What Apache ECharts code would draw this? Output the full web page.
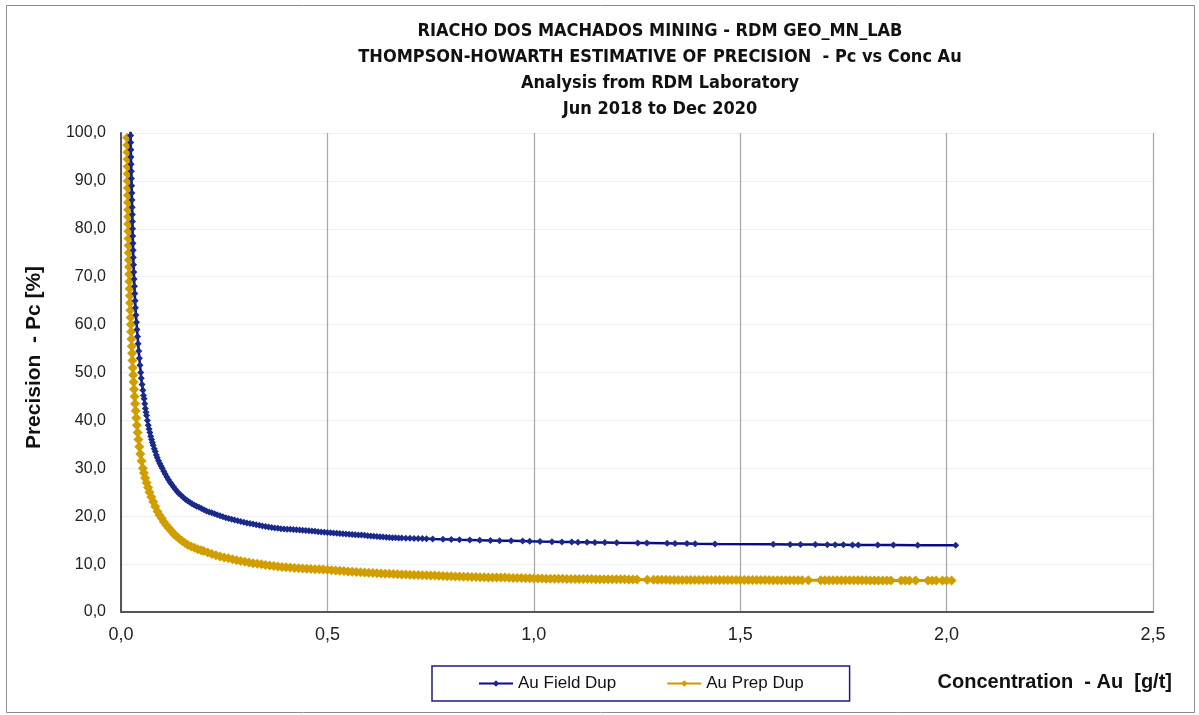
<!DOCTYPE html>
<html>
<head>
<meta charset="utf-8">
<script src="https://cdn.jsdelivr.net/npm/echarts@6/dist/echarts.min.js"></script>
<style>
html,body{margin:0;padding:0;background:#fff;}
#c{width:1199px;height:715px;}
</style>
</head>
<body>
<div id="c"></div>
<script>
const titleLines = [
  'RIACHO DOS MACHADOS MINING - RDM GEO_MN_LAB',
  'THOMPSON-HOWARTH ESTIMATIVE OF PRECISION  - Pc vs Conc Au',
  'Analysis from RDM Laboratory',
  'Jun 2018 to Dec 2020'
];
const seriesNames = ['Au Field Dup', 'Au Prep Dup'];
const xTicks = [0, 0.5, 1.0, 1.5, 2.0, 2.5];
const yTicks = [0, 10, 20, 30, 40, 50, 60, 70, 80, 90, 100];

// [Concentration Au g/t, Precision Pc %]
const fieldPoints = [
  [0.0222,104],[0.0229,101],[0.0233,99.5],[0.0236,98],[0.0239,96.5],[0.0242,95],[0.0246,93.5],[0.0250,92],[0.0255,90.5],[0.0259,89],
  [0.0263,87.5],[0.0267,86],[0.0271,84.5],[0.0275,83],[0.0278,81.5],[0.0281,80],[0.0285,78.5],[0.0290,77],[0.0295,75.5],[0.0299,74],
  [0.0305,72.5],[0.0311,71],[0.0318,69.5],[0.0325,68],[0.0333,66.5],[0.0342,65],[0.0351,63.5],[0.0362,62],[0.0375,60.5],[0.0388,59],
  [0.0402,57.5],[0.0415,56],[0.0430,54.5],[0.0445,53],[0.0461,51.5],[0.0478,50],[0.049,48.8],[0.051,47.5],[0.053,46.3],[0.0545,45.2],
  [0.056,44.5],[0.0575,43.5],[0.059,42.5],[0.0605,41.7],[0.062,41],[0.064,40],[0.066,39],[0.068,38.2],[0.070,37.5],[0.072,36.7],
  [0.074,36],[0.076,35.4],[0.078,34.8],[0.0805,34.1],[0.083,33.5],[0.0855,32.8],[0.088,32.2],[0.091,31.6],[0.094,31],[0.097,30.5],
  [0.100,30],[0.1035,29.4],[0.107,28.8],[0.111,28.2],[0.115,27.6],[0.119,27.1],[0.123,26.6],[0.1275,26.1],[0.132,25.6],[0.1365,25.1],
  [0.141,24.7],[0.146,24.3],[0.151,23.9],[0.156,23.55],[0.161,23.2],[0.1665,22.9],[0.172,22.6],[0.1775,22.35],[0.183,22.1],[0.189,21.85],
  [0.195,21.6],[0.201,21.35],[0.207,21.1],[0.2135,20.9],[0.220,20.7],[0.2265,20.5],[0.233,20.3],[0.240,20.1],[0.247,19.9],[0.254,19.7],
  [0.261,19.5],[0.268,19.35],[0.275,19.2],[0.2825,19.05],[0.29,18.9],[0.2975,18.75],[0.305,18.6],[0.3125,18.5],[0.32,18.35],[0.3275,18.2],
  [0.335,18.1],[0.3425,17.95],[0.35,17.85],[0.3575,17.75],[0.365,17.65],[0.3725,17.55],[0.38,17.5],[0.3875,17.4],[0.395,17.35],[0.4025,17.3],
  [0.41,17.25],[0.4175,17.2],[0.425,17.15],[0.4325,17.1],[0.44,17.05],[0.4475,17.0],[0.455,16.95],[0.4625,16.9],[0.47,16.85],[0.4775,16.75],
  [0.485,16.7],[0.4925,16.65],[0.50,16.6],[0.5075,16.55],[0.515,16.5],[0.5225,16.45],[0.53,16.4],[0.5375,16.35],[0.545,16.3],[0.5525,16.25],
  [0.56,16.2],[0.5675,16.15],[0.575,16.1],[0.5825,16.05],[0.59,16.0],[0.5975,15.9],[0.605,15.85],[0.6125,15.8],[0.62,15.75],[0.6275,15.7],
  [0.635,15.65],[0.6425,15.6],[0.65,15.55],[0.6575,15.52],[0.665,15.5],[0.6725,15.47],[0.68,15.45],[0.69,15.42],[0.70,15.4],[0.71,15.37],
  [0.72,15.35],[0.73,15.32],[0.74,15.3],[0.755,15.25],[0.78,15.2],[0.80,15.15],[0.82,15.1],[0.845,15.05],[0.869,15.0],[0.895,14.95],
  [0.917,14.9],[0.945,14.85],[0.973,14.8],[0.99,14.75],[1.015,14.7],[1.044,14.65],[1.068,14.6],[1.092,14.6],[1.107,14.55],[1.129,14.55],
  [1.148,14.5],[1.172,14.5],[1.201,14.45],[1.252,14.4],[1.274,14.4],[1.323,14.35],[1.342,14.3],[1.371,14.3],[1.391,14.25],[1.439,14.2],
  [1.58,14.15],[1.621,14.1],[1.646,14.1],[1.682,14.1],[1.711,14.05],[1.73,14.05],[1.75,14.05],[1.772,14.0],[1.786,14.0],[1.833,14.0],
  [1.871,14.0],[1.93,13.95],[2.022,13.95]
];

const prepPoints = [
  [0.0150,99],[0.0153,97.5],[0.0156,96],[0.0158,94.5],[0.0160,93],[0.0162,91.5],[0.0164,90],[0.0166,88.5],[0.0168,87],[0.0170,85.5],
  [0.0172,84],[0.0174,82.5],[0.0176,81],[0.0178,79.5],[0.0181,78],[0.0184,76.5],[0.0187,75],[0.0191,73.5],[0.0195,72],[0.0199,70.5],
  [0.0203,69],[0.0208,67.5],[0.0214,66],[0.0220,64.5],[0.0226,63],[0.0232,61.5],[0.0238,60],[0.0245,58.5],[0.0252,57],[0.0260,55.5],
  [0.0268,54],[0.0276,52.5],[0.0285,51],[0.0295,49.5],[0.0305,48],[0.0316,46.5],[0.0328,45],[0.0340,43.5],[0.0354,42],[0.0368,40.5],
  [0.0385,39],[0.0403,37.5],[0.0422,36],[0.0444,34.5],[0.0468,33],[0.0496,31.5],[0.0530,30],[0.0555,29],[0.0585,28],[0.062,27],
  [0.0655,26],[0.069,25],[0.0735,24],[0.078,23],[0.083,22],[0.0885,21],[0.0935,20.2],[0.099,19.5],[0.104,18.8],[0.110,18.1],
  [0.116,17.5],[0.122,16.9],[0.128,16.3],[0.134,15.8],[0.141,15.3],[0.148,14.8],[0.155,14.4],[0.162,14.0],[0.170,13.7],[0.178,13.4],
  [0.186,13.1],[0.194,12.9],[0.20,12.75],[0.21,12.4],[0.22,12.1],[0.23,11.85],[0.24,11.6],[0.25,11.4],[0.26,11.2],[0.27,11.0],
  [0.28,10.8],[0.29,10.65],[0.30,10.5],[0.31,10.35],[0.32,10.2],[0.33,10.08],[0.34,9.95],[0.35,9.82],[0.36,9.7],[0.37,9.6],
  [0.38,9.5],[0.39,9.42],[0.40,9.35],[0.41,9.28],[0.42,9.2],[0.43,9.15],[0.44,9.1],[0.45,9.05],[0.46,9.0],[0.47,8.95],
  [0.48,8.9],[0.49,8.85],[0.50,8.8],[0.51,8.72],[0.52,8.65],[0.53,8.6],[0.54,8.55],[0.55,8.48],[0.56,8.4],[0.57,8.35],
  [0.58,8.3],[0.59,8.25],[0.60,8.2],[0.61,8.15],[0.62,8.1],[0.63,8.05],[0.64,8.0],[0.65,7.98],[0.66,7.95],[0.67,7.9],
  [0.68,7.85],[0.69,7.82],[0.70,7.8],[0.71,7.75],[0.72,7.7],[0.73,7.68],[0.74,7.65],[0.75,7.62],[0.76,7.6],[0.77,7.55],
  [0.78,7.5],[0.79,7.48],[0.80,7.45],[0.81,7.42],[0.82,7.4],[0.83,7.38],[0.84,7.35],[0.85,7.32],[0.86,7.3],[0.87,7.28],
  [0.88,7.25],[0.89,7.22],[0.90,7.2],[0.91,7.2],[0.92,7.2],[0.93,7.18],[0.94,7.15],[0.95,7.12],[0.96,7.1],[0.97,7.08],
  [0.98,7.05],[0.99,7.02],[1.00,7.0],[1.01,6.98],[1.02,6.97],[1.03,6.96],[1.04,6.95],[1.05,6.94],[1.06,6.93],[1.07,6.92],
  [1.08,6.91],[1.09,6.9],[1.10,6.9],[1.11,6.89],[1.12,6.88],[1.13,6.87],[1.14,6.87],[1.15,6.86],[1.16,6.86],[1.17,6.85],
  [1.18,6.85],[1.19,6.84],[1.20,6.83],[1.21,6.82],[1.22,6.82],[1.23,6.81],[1.24,6.8],[1.25,6.78],[1.275,6.72],[1.29,6.72],
  [1.30,6.72],[1.31,6.71],[1.32,6.71],[1.33,6.7],[1.34,6.7],[1.35,6.7],[1.36,6.7],[1.37,6.7],[1.38,6.69],[1.39,6.69],
  [1.40,6.69],[1.41,6.69],[1.42,6.68],[1.43,6.68],[1.44,6.68],[1.45,6.68],[1.46,6.68],[1.47,6.67],[1.48,6.67],[1.49,6.67],
  [1.50,6.67],[1.51,6.67],[1.52,6.66],[1.53,6.66],[1.54,6.66],[1.55,6.66],[1.56,6.66],[1.57,6.66],[1.58,6.65],[1.59,6.65],
  [1.60,6.65],[1.61,6.65],[1.62,6.65],[1.63,6.65],[1.64,6.65],[1.65,6.64],[1.665,6.64],[1.695,6.62],[1.705,6.62],[1.715,6.62],
  [1.725,6.62],[1.735,6.62],[1.745,6.62],[1.755,6.61],[1.765,6.61],[1.775,6.61],[1.785,6.61],[1.795,6.61],[1.805,6.61],[1.815,6.6],
  [1.825,6.6],[1.835,6.6],[1.845,6.6],[1.855,6.6],[1.865,6.6],[1.89,6.6],[1.90,6.6],[1.91,6.6],[1.925,6.6],[1.955,6.6],
  [1.965,6.6],[1.975,6.6],[1.99,6.6],[2.00,6.6],[2.012,6.6]
];

const fmt = v => v.toFixed(1).replace('.', ',');

const chart = echarts.init(document.getElementById('c'));
chart.setOption({
  animation: false,
  backgroundColor: '#ffffff',
  title: {
    text: titleLines.join('\n'),
    left: 655,
    top: 13,
    textAlign: 'center',
    textStyle: {
      fontFamily: 'Liberation Sans Narrow, DejaVu Sans Condensed, Liberation Sans',
      fontWeight: 'bold',
      fontSize: 18,
      lineHeight: 26,
      color: '#111111'
    }
  },
  graphic: [{
    type: 'rect',
    shape: {x: 6.5, y: 5.5, width: 1188, height: 707},
    style: {fill: 'none', stroke: '#8c8c8c', lineWidth: 1},
    silent: true, z: -1
  }],
  legend: {
    left: 432,
    top: 666,
    padding: [9, 46, 9, 46],
    itemGap: 50,
    itemWidth: 34,
    itemHeight: 8,
    borderColor: '#1c1c7a',
    borderWidth: 1.5,
    textStyle: {fontFamily: 'Liberation Sans', fontSize: 17, color: '#111111'},
    data: seriesNames
  },
  grid: {left: 121, top: 133, right: 46, bottom: 103, containLabel: false},
  xAxis: {
    type: 'value',
    min: xTicks[0], max: xTicks[xTicks.length - 1], interval: 0.5,
    name: 'Concentration  - Au  [g/t]',
    nameLocation: 'end',
    nameGap: 19,
    nameTextStyle: {
      fontFamily: 'Liberation Sans', fontWeight: 'bold', fontSize: 20, color: '#111111',
      align: 'right', verticalAlign: 'top', padding: [60, 0, 0, 0]
    },
    axisLine: {show: true, onZero: false, lineStyle: {color: '#555555', width: 2}},
    axisTick: {show: false},
    axisLabel: {formatter: v => fmt(v), fontFamily: 'Liberation Sans', fontSize: 18, color: '#222222', margin: 14},
    splitLine: {show: true, lineStyle: {color: '#a6a6a6', width: 1.2}}
  },
  yAxis: {
    type: 'value',
    min: yTicks[0], max: yTicks[yTicks.length - 1], interval: 10,
    name: 'Precision  - Pc [%]',
    nameLocation: 'middle',
    nameGap: 76,
    nameTextStyle: {fontFamily: 'Liberation Sans', fontWeight: 'bold', fontSize: 21, color: '#111111', padding: [0, 0, 0, 30]},
    axisLine: {show: true, lineStyle: {color: '#555555', width: 2}},
    axisTick: {show: false},
    axisLabel: {formatter: v => fmt(v), fontFamily: 'Liberation Sans', fontSize: 16, color: '#222222', margin: 15},
    splitLine: {show: true, lineStyle: {color: '#eef0f7', width: 1}}
  },
  series: [
    {
      name: seriesNames[0],
      type: 'line',
      data: fieldPoints,
      color: '#0b0b85',
      lineStyle: {width: 2.5, color: '#0b0b85'},
      symbol: 'diamond',
      symbolSize: 7,
      showAllSymbol: true,
      itemStyle: {color: '#1a2a8a'},
      clip: true,
      z: 3
    },
    {
      name: seriesNames[1],
      type: 'line',
      data: prepPoints,
      color: '#cc9a00',
      lineStyle: {width: 3, color: '#cc9a00'},
      symbol: 'diamond',
      symbolSize: 10,
      showAllSymbol: true,
      itemStyle: {color: '#d19e00'},
      clip: true,
      z: 2
    }
  ]
});
</script>
</body>
</html>
